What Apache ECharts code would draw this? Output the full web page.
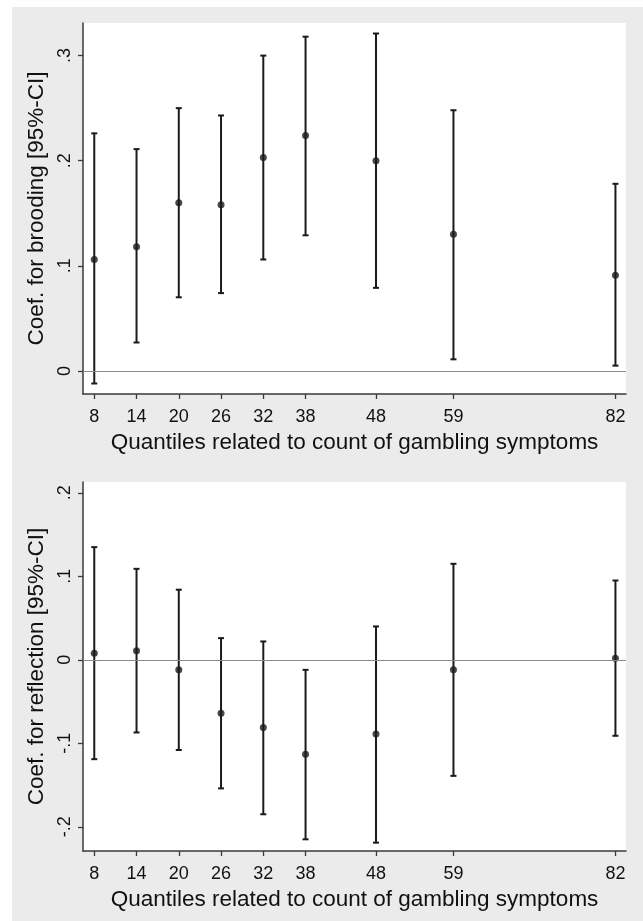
<!DOCTYPE html>
<html>
<head>
<meta charset="utf-8">
<script src="https://cdn.jsdelivr.net/npm/echarts@6/dist/echarts.min.js"></script>
<style>
  html, body { margin: 0; padding: 0; background: #ffffff; }
  #chart { position: absolute; left: 12px; top: 7px; width: 631px; height: 914px; }
</style>
</head>
<body>
<div id="chart"></div>
<script>
// ---- data ----
const quantiles = [8, 14, 20, 26, 32, 38, 48, 59, 82];

const broodCoef = [0.106, 0.118, 0.160, 0.158, 0.203, 0.224, 0.200, 0.130, 0.091];
const broodLow  = [-0.012, 0.027, 0.070, 0.074, 0.106, 0.129, 0.079, 0.011, 0.005];
const broodHigh = [0.226, 0.211, 0.250, 0.243, 0.300, 0.318, 0.321, 0.248, 0.178];

const reflCoef = [0.008, 0.011, -0.012, -0.064, -0.081, -0.113, -0.089, -0.012, 0.002];
const reflLow  = [-0.119, -0.087, -0.108, -0.154, -0.185, -0.215, -0.219, -0.139, -0.091];
const reflHigh = [0.135, 0.109, 0.084, 0.026, 0.022, -0.012, 0.040, 0.115, 0.095];

const broodTicks = [0, 0.1, 0.2, 0.3];
const reflTicks = [-0.2, -0.1, 0, 0.1, 0.2];

const xTitle = 'Quantiles related to count of gambling symptoms';
const broodTitle = 'Coef. for brooding [95%-CI]';
const reflTitle = 'Coef. for reflection [95%-CI]';

// ---- helpers ----
const FONT = '"Liberation Sans", Arial, sans-serif';
const INK = '#1a1a1a';
const AXIS = '#3a3a3a';

function fmt(v) {
  const r = Math.round(v * 10) / 10;
  if (r === 0) return '0';
  return String(r).replace('0.', '.');
}

function renderErr(params, api) {
  const x = api.value(0), lo = api.value(1), hi = api.value(2);
  const a = api.coord([x, lo]);
  const b = api.coord([x, hi]);
  const w = 3;
  const st = { stroke: INK, lineWidth: 2 };
  return {
    type: 'group',
    children: [
      { type: 'line', shape: { x1: a[0], y1: a[1], x2: b[0], y2: b[1] }, style: st },
      { type: 'line', shape: { x1: a[0] - w, y1: a[1], x2: a[0] + w, y2: a[1] }, style: st },
      { type: 'line', shape: { x1: b[0] - w, y1: b[1], x2: b[0] + w, y2: b[1] }, style: st }
    ]
  };
}

function xAxisDef(gridIndex) {
  return {
    type: 'value', gridIndex: gridIndex, min: 6.4, max: 83.5,
    name: xTitle, nameLocation: 'middle', nameGap: 37,
    nameTextStyle: { fontFamily: FONT, fontSize: 22.5, color: '#111' },
    axisLine: { show: true, onZero: false, lineStyle: { color: AXIS, width: 1.5 } },
    axisTick: { show: true, length: 5, inside: false, customValues: quantiles, lineStyle: { color: AXIS, width: 1.3 } },
    axisLabel: { show: true, customValues: quantiles, margin: 14, fontFamily: FONT, fontSize: 18, color: '#111' },
    splitLine: { show: false }
  };
}

function yAxisDef(gridIndex, min, max, ticks, title) {
  return {
    type: 'value', gridIndex: gridIndex, min: min, max: max,
    name: title, nameLocation: 'middle', nameGap: 34, nameRotate: 90,
    nameTextStyle: { fontFamily: FONT, fontSize: 22.5, color: '#111' },
    axisLine: { show: true, onZero: false, lineStyle: { color: AXIS, width: 1.5 } },
    axisTick: { show: true, length: 5, inside: false, customValues: ticks, lineStyle: { color: AXIS, width: 1.3 } },
    axisLabel: { show: true, customValues: ticks, rotate: 90, margin: 9, fontFamily: FONT, fontSize: 18, color: '#111', formatter: fmt },
    splitLine: { show: false }
  };
}

function errData(lo, hi) { return quantiles.map((q, i) => [q, lo[i], hi[i]]); }
function ptData(c) { return quantiles.map((q, i) => [q, c[i]]); }

const zeroLine = {
  silent: true, symbol: 'none', label: { show: false },
  lineStyle: { color: '#8a8a8a', width: 1.2, type: 'solid' },
  data: [{ yAxis: 0 }]
};

const option = {
  backgroundColor: '#ebebeb',
  animation: false,
  grid: [
    { left: 71, top: 16, width: 543, height: 371, show: true, backgroundColor: '#ffffff', borderWidth: 0 },
    { left: 71, top: 475, width: 543, height: 369, show: true, backgroundColor: '#ffffff', borderWidth: 0 }
  ],
  xAxis: [xAxisDef(0), xAxisDef(1)],
  yAxis: [
    yAxisDef(0, -0.022, 0.331, broodTicks, broodTitle),
    yAxisDef(1, -0.229, 0.213, reflTicks, reflTitle)
  ],
  series: [
    { type: 'custom', xAxisIndex: 0, yAxisIndex: 0, renderItem: renderErr, data: errData(broodLow, broodHigh), z: 3,
      markLine: zeroLine },
    { type: 'scatter', xAxisIndex: 0, yAxisIndex: 0, data: ptData(broodCoef), symbol: 'circle', symbolSize: 7,
      itemStyle: { color: INK }, z: 4 },
    { type: 'custom', xAxisIndex: 1, yAxisIndex: 1, renderItem: renderErr, data: errData(reflLow, reflHigh), z: 3,
      markLine: zeroLine },
    { type: 'scatter', xAxisIndex: 1, yAxisIndex: 1, data: ptData(reflCoef), symbol: 'circle', symbolSize: 7,
      itemStyle: { color: INK }, z: 4 }
  ]
};

const chart = echarts.init(document.getElementById('chart'));
chart.setOption(option);
</script>
</body>
</html>
